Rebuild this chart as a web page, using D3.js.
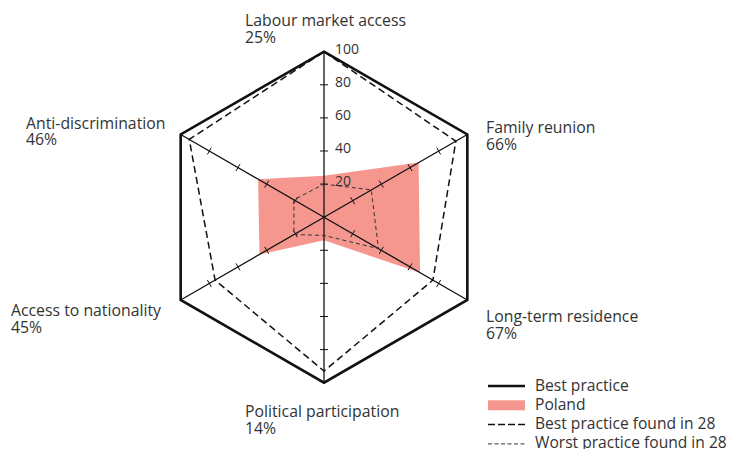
<!DOCTYPE html>
<html>
<head>
<meta charset="utf-8">
<script src="https://cdn.jsdelivr.net/npm/d3@7"></script>
<style>
  html, body { margin: 0; padding: 0; background: #fff; }
  svg text { font-family: "Open Sans", Lato, sans-serif; fill: #333; }
</style>
</head>
<body>
<svg id="chart" width="733" height="449"></svg>
<script>
// MIPEX dimensions, clockwise from the top
const dimensions = ["Labour market access", "Family reunion", "Long-term residence",
                    "Political participation", "Access to nationality", "Anti-discrimination"];
const poland = [25, 66, 67, 14, 45, 46];
const bestPractice = [100, 100, 100, 100, 100, 100];
const bestFound = [100, 92, 76, 93, 76, 94];
const worstFound = [20, 33, 38, 11, 21, 21];
const tickValues = [20, 40, 60, 80, 100];
const legendLabels = ["Best practice", "Poland", "Best practice found in 28", "Worst practice found in 28"];

const svg = d3.select("#chart");
const cx = 324, cy = 217.2;
const r = d3.scaleLinear().domain([0, 100]).range([0, 165.5]);
const angle = d3.scalePoint().domain(d3.range(dimensions.length)).range([0, 2 * Math.PI * (5 / 6)]);

const g = svg.append("g").attr("transform", `translate(${cx},${cy})`);

const radial = d3.lineRadial()
  .angle((d, i) => angle(i))
  .radius(d => r(d))
  .curve(d3.curveLinearClosed);

const pt = (i, v) => {
  const a = angle(i) - Math.PI / 2;
  return [Math.cos(a) * r(v), Math.sin(a) * r(v)];
};

// Poland area
g.append("path").attr("d", radial(poland))
  .attr("fill", "#f5978f").attr("stroke", "none");

// Axes from the centre to each vertex
dimensions.forEach((d, i) => {
  const [x, y] = pt(i, 100);
  g.append("line").attr("x1", 0).attr("y1", 0).attr("x2", x).attr("y2", y)
    .attr("stroke", "#111").attr("stroke-width", 1.3);
  // small perpendicular tick marks
  const a = angle(i) - Math.PI / 2;
  const px = -Math.sin(a), py = Math.cos(a);
  tickValues.slice(0, 4).forEach(v => {
    const [tx, ty] = pt(i, v);
    g.append("line")
      .attr("x1", tx - px * 4).attr("y1", ty - py * 4)
      .attr("x2", tx + px * 4).attr("y2", ty + py * 4)
      .attr("stroke", "#111").attr("stroke-width", 1);
  });
});

// Worst practice found in 28
g.append("path").attr("d", radial(worstFound))
  .attr("fill", "none").attr("stroke", "#333").attr("stroke-width", 1)
  .attr("stroke-dasharray", "4,3");

// Best practice found in 28
g.append("path").attr("d", radial(bestFound))
  .attr("fill", "none").attr("stroke", "#111").attr("stroke-width", 1.5)
  .attr("stroke-dasharray", "7,4");

// Best practice (outer hexagon)
g.append("path").attr("d", radial(bestPractice))
  .attr("fill", "none").attr("stroke", "#111").attr("stroke-width", 2.6)
  .attr("stroke-linejoin", "miter");

// Scale labels on the vertical axis
g.selectAll("text.tick").data(tickValues).join("text")
  .attr("class", "tick")
  .attr("x", 11).attr("y", d => -r(d) + 1.8)
  .attr("font-size", 14)
  .text(d => d);

// Dimension labels with Poland's score
const labelPos = [
  [245, 26], [486, 133], [486, 322], [245, 417], [11, 316], [26, 128.5]
];
dimensions.forEach((d, i) => {
  svg.append("text").attr("font-size", 15.8)
    .attr("x", labelPos[i][0]).attr("y", labelPos[i][1]).text(d);
  svg.append("text").attr("font-size", 15.8)
    .attr("x", labelPos[i][0]).attr("y", labelPos[i][1] + 16.5).text(poland[i] + "%");
});

// Legend
const lg = svg.append("g").attr("transform", "translate(488,386)");
const rowH = 19.3;
legendLabels.forEach((lab, i) => {
  const y = i * rowH;
  if (i === 0) {
    lg.append("line").attr("x1", 0).attr("x2", 37).attr("y1", y).attr("y2", y)
      .attr("stroke", "#111").attr("stroke-width", 2.6);
  } else if (i === 1) {
    lg.append("rect").attr("x", 0).attr("y", y - 5).attr("width", 37).attr("height", 10)
      .attr("fill", "#f5978f");
  } else if (i === 2) {
    lg.append("line").attr("x1", 0).attr("x2", 37).attr("y1", y).attr("y2", y)
      .attr("stroke", "#111").attr("stroke-width", 1.5).attr("stroke-dasharray", "7,3");
  } else {
    lg.append("line").attr("x1", 0).attr("x2", 37).attr("y1", y).attr("y2", y)
      .attr("stroke", "#333").attr("stroke-width", 1).attr("stroke-dasharray", "4,2.5");
  }
  lg.append("text").attr("x", 47).attr("y", y + 4.5).attr("font-size", 15.6).text(lab);
});
</script>
</body>
</html>
